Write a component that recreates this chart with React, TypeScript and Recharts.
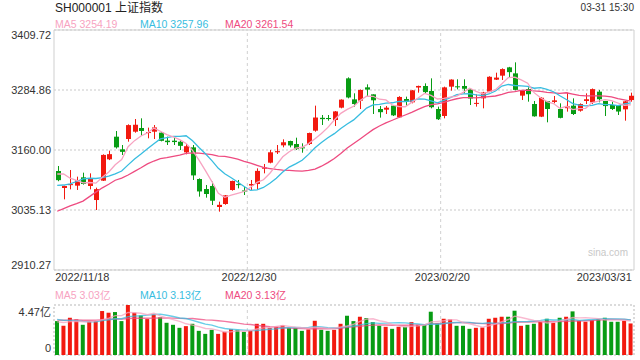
import React from "react";
import {
  Bar,
  CartesianGrid,
  Cell,
  ComposedChart,
  Line,
  ReferenceArea,
  ReferenceLine,
  XAxis,
  YAxis,
} from "recharts";

const dates = [
  "2022/11/18", "2022/11/21", "2022/11/22", "2022/11/23", "2022/11/24", "2022/11/25", "2022/11/28", "2022/11/29", "2022/11/30", "2022/12/01",
  "2022/12/02", "2022/12/05", "2022/12/06", "2022/12/07", "2022/12/08", "2022/12/09", "2022/12/12", "2022/12/13", "2022/12/14", "2022/12/15",
  "2022/12/16", "2022/12/19", "2022/12/20", "2022/12/21", "2022/12/22", "2022/12/23", "2022/12/26", "2022/12/27", "2022/12/28", "2022/12/29",
  "2022/12/30", "2023/01/03", "2023/01/04", "2023/01/05", "2023/01/06", "2023/01/09", "2023/01/10", "2023/01/11", "2023/01/12", "2023/01/13",
  "2023/01/16", "2023/01/17", "2023/01/18", "2023/01/19", "2023/01/20", "2023/01/30", "2023/01/31", "2023/02/01", "2023/02/02", "2023/02/03",
  "2023/02/06", "2023/02/07", "2023/02/08", "2023/02/09", "2023/02/10", "2023/02/13", "2023/02/14", "2023/02/15", "2023/02/16", "2023/02/17",
  "2023/02/20", "2023/02/21", "2023/02/22", "2023/02/23", "2023/02/24", "2023/02/27", "2023/02/28", "2023/03/01", "2023/03/02", "2023/03/03",
  "2023/03/06", "2023/03/07", "2023/03/08", "2023/03/09", "2023/03/10", "2023/03/13", "2023/03/14", "2023/03/15", "2023/03/16", "2023/03/17",
  "2023/03/20", "2023/03/21", "2023/03/22", "2023/03/23", "2023/03/24", "2023/03/27", "2023/03/28", "2023/03/29", "2023/03/30", "2023/03/31",
];

const opens = [
  3116.3, 3080.9, 3087.2, 3085.8, 3103.1, 3085.1, 3055.9, 3096.2, 3140.6, 3187.7,
  3161.4, 3182.9, 3198.1, 3205.8, 3196.7, 3198.1, 3196.1, 3179.5, 3179.4, 3177.3,
  3155.1, 3165.5, 3099.6, 3078.8, 3085.1, 3041.4, 3047.6, 3076.7, 3089.0, 3075.8,
  3086.0, 3089.2, 3121.1, 3133.6, 3155.2, 3169.7, 3178.7, 3172.5, 3165.5, 3172.5,
  3200.2, 3227.0, 3226.6, 3222.4, 3248.1, 3309.1, 3265.4, 3262.7, 3290.4, 3275.8,
  3245.3, 3243.9, 3252.3, 3228.0, 3266.1, 3259.2, 3290.0, 3293.2, 3282.8, 3245.3,
  3230.8, 3291.8, 3292.5, 3293.2, 3286.2, 3256.0, 3267.5, 3281.4, 3306.4, 3314.7,
  3332.0, 3319.5, 3273.1, 3286.9, 3255.7, 3229.4, 3262.0, 3260.0, 3245.3, 3247.0,
  3252.3, 3241.8, 3262.0, 3259.2, 3281.4, 3262.0, 3253.6, 3253.6, 3244.6, 3264.0,
];

const highs = [
  3126.7, 3086.0, 3118.4, 3104.5, 3112.8, 3111.4, 3081.6, 3151.0, 3158.6, 3199.5,
  3170.4, 3213.4, 3224.5, 3225.9, 3206.5, 3212.0, 3197.0, 3187.7, 3189.0, 3180.8,
  3172.5, 3170.4, 3101.0, 3087.2, 3094.1, 3052.5, 3066.3, 3096.2, 3097.6, 3083.7,
  3097.6, 3121.8, 3130.9, 3160.0, 3170.4, 3182.2, 3179.4, 3185.6, 3173.9, 3196.1,
  3252.3, 3232.8, 3232.8, 3241.1, 3265.4, 3311.2, 3277.9, 3286.0, 3296.6, 3275.8,
  3251.6, 3251.6, 3253.6, 3272.0, 3271.0, 3284.9, 3293.9, 3298.7, 3309.1, 3250.2,
  3291.8, 3307.1, 3307.1, 3307.1, 3286.2, 3275.8, 3281.0, 3313.5, 3320.9, 3329.9,
  3333.0, 3342.4, 3283.5, 3290.4, 3262.0, 3270.0, 3262.0, 3272.4, 3257.1, 3279.3,
  3267.5, 3257.0, 3277.9, 3288.0, 3284.9, 3262.0, 3260.6, 3253.6, 3262.0, 3279.3,
];

const lows = [
  3095.0, 3057.3, 3078.1, 3076.8, 3088.0, 3078.1, 3035.1, 3095.5, 3139.0, 3163.0,
  3149.6, 3177.3, 3196.0, 3189.8, 3184.3, 3182.9, 3178.0, 3170.4, 3170.4, 3160.0,
  3151.0, 3097.6, 3062.9, 3060.8, 3045.5, 3031.7, 3046.0, 3075.4, 3080.2, 3066.3,
  3076.8, 3078.1, 3111.4, 3132.2, 3151.7, 3165.5, 3165.5, 3160.0, 3154.4, 3170.4,
  3198.1, 3212.0, 3221.0, 3209.9, 3246.7, 3267.5, 3250.2, 3245.3, 3272.4, 3234.9,
  3227.3, 3234.9, 3230.7, 3227.0, 3251.6, 3257.1, 3279.3, 3277.9, 3246.7, 3222.4,
  3225.9, 3283.5, 3286.2, 3277.9, 3253.6, 3250.2, 3246.7, 3280.0, 3305.7, 3305.7,
  3311.2, 3284.2, 3264.0, 3260.6, 3229.4, 3228.5, 3217.6, 3257.1, 3225.9, 3239.8,
  3232.8, 3239.8, 3255.7, 3255.7, 3259.2, 3230.7, 3243.2, 3232.8, 3221.0, 3260.6,
];

const closes = [
  3097.24, 3085.04, 3088.94, 3096.91, 3089.31, 3101.69, 3078.55, 3149.75, 3151.34, 3165.47,
  3156.14, 3211.81, 3212.53, 3199.62, 3197.35, 3206.95, 3179.04, 3176.33, 3176.53, 3168.65,
  3167.86, 3107.12, 3073.77, 3068.41, 3054.43, 3045.87, 3065.56, 3095.57, 3087.4, 3073.7,
  3089.26, 3116.51, 3123.52, 3155.22, 3157.64, 3176.08, 3169.51, 3161.84, 3163.45, 3195.31,
  3227.59, 3224.24, 3224.41, 3240.28, 3264.81, 3269.32, 3255.67, 3284.92, 3285.67, 3263.41,
  3238.7, 3248.09, 3232.11, 3270.38, 3260.67, 3284.16, 3293.28, 3280.49, 3249.03, 3224.02,
  3290.34, 3306.52, 3291.15, 3287.48, 3267.16, 3258.03, 3279.61, 3312.35, 3310.65, 3328.39,
  3322.03, 3285.1, 3283.25, 3276.09, 3230.08, 3268.7, 3245.31, 3263.31, 3226.89, 3250.55,
  3234.91, 3255.65, 3265.65, 3286.65, 3265.65, 3251.4, 3245.38, 3240.06, 3261.25, 3272.86,
];

// closes of the 19 sessions before the window, for the moving averages
const priorCloses = [
  2977.56, 2976.28, 2999.5, 2982.9, 2915.93, 2893.48, 2969.2, 3003.37, 2997.81, 3070.8,
  3077.82, 3064.49, 3048.17, 3036.13, 3087.29, 3083.4, 3134.08, 3119.98, 3115.43,
];

// volume in 亿
const volumes = [
  3.03, 2.61, 3.33, 3.18, 2.7, 3.0, 3.03, 3.93, 3.78, 3.84,
  3.03, 4.47, 3.78, 3.54, 3.21, 3.63, 3.36, 2.88, 2.7, 2.43,
  2.58, 2.79, 2.16, 1.89, 2.25, 1.89, 2.07, 2.31, 2.25, 2.07,
  2.22, 2.79, 2.79, 2.43, 2.52, 2.64, 2.43, 2.43, 2.16, 2.28,
  3.06, 2.25, 2.16, 2.25, 2.79, 3.51, 3.03, 3.42, 3.3, 2.94,
  2.61, 2.52, 2.34, 2.52, 2.52, 2.94, 2.7, 2.7, 3.87, 2.82,
  3.24, 3.18, 2.61, 2.61, 2.34, 2.43, 2.46, 3.24, 3.33, 3.42,
  3.42, 3.96, 2.61, 2.7, 2.79, 3.0, 3.24, 2.88, 3.33, 3.42,
  3.9, 3.06, 2.97, 3.12, 3.21, 3.33, 2.97, 2.97, 3.06, 2.82,
];

const priorVolumes = [
  3.0, 2.9, 3.1, 3.2, 2.95, 3.05, 3.15, 2.98, 3.12, 3.15,
  3.45, 3.3, 3.5, 3.35, 3.37, 2.9, 2.95, 3.0, 2.95,
];

const priceTicks = [2910.27, 3035.13, 3160.0, 3284.86, 3409.72];
const volumeTicks = [0, 4.47];
const dateTicks = ["2022/11/18", "2022/12/30", "2023/02/20", "2023/03/31"];
const dividerDates = ["2022/12/30", "2023/02/20"];

const priceLegend = ["MA5 3254.19", "MA10 3257.96", "MA20 3261.54"];
const volumeLegend = ["MA5 3.03亿", "MA10 3.13亿", "MA20 3.13亿"];

const RED = "#f2190f";
const GREEN = "#089c14";
const MA5 = "#f7a3c1";
const MA10 = "#38bde0";
const MA20 = "#ee4b80";
const FONT = "'Liberation Sans', Arial, 'Noto Sans CJK SC', sans-serif";

function movingAvg(values: number[], prior: number[], n: number) {
  const all = [...prior, ...values];
  return values.map((_, i) => {
    const end = prior.length + i + 1;
    const part = all.slice(Math.max(0, end - n), end);
    return part.reduce((a, b) => a + b, 0) / part.length;
  });
}

const ma5 = movingAvg(closes, priorCloses, 5);
const ma10 = movingAvg(closes, priorCloses, 10);
const ma20 = movingAvg(closes, priorCloses, 20);
const vma5 = movingAvg(volumes, priorVolumes, 5);
const vma10 = movingAvg(volumes, priorVolumes, 10);
const vma20 = movingAvg(volumes, priorVolumes, 20);

const rows = dates.map((date, i) => ({
  date,
  open: opens[i],
  high: highs[i],
  low: lows[i],
  close: closes[i],
  range: [lows[i], highs[i]],
  ma5: ma5[i],
  ma10: ma10[i],
  ma20: ma20[i],
  vol: volumes[i],
  vma5: vma5[i],
  vma10: vma10[i],
  vma20: vma20[i],
}));

function Candle(props: any) {
  const { x, y, width, height, payload } = props;
  if (!payload) return null;
  const top = Math.min(y, y + height);
  const h = Math.abs(height);
  const { open, close, high, low } = payload;
  const toY = (v: number) => top + ((high - v) / (high - low)) * h;
  const color = close >= open ? RED : GREEN;
  const cx = Math.round(x + width / 2) + 0.5;
  const bodyTop = toY(Math.max(open, close));
  const bodyBottom = toY(Math.min(open, close));
  return (
    <g>
      <line x1={cx} x2={cx} y1={top} y2={top + h} stroke={color} strokeWidth={1} />
      <rect x={cx - 2.5} y={bodyTop} width={5} height={Math.max(1, bodyBottom - bodyTop)} fill={color} />
    </g>
  );
}

function PriceTick(props: any) {
  const { y, payload } = props;
  const v = payload.value;
  let dy = 4;
  if (v === priceTicks[priceTicks.length - 1]) dy = 8.5;
  if (v === priceTicks[0]) dy = -1.5;
  return (
    <text x={51} y={y} dy={dy} textAnchor="end" fontSize={11} fill="#333">
      {v.toFixed(2)}
    </text>
  );
}

function VolumeTick(props: any) {
  const { y, payload } = props;
  const v = payload.value;
  return (
    <text x={51} y={y} dy={v > 0 ? 11 : -3} textAnchor="end" fontSize={11} fill="#333">
      {v > 0 ? `${v.toFixed(2)}亿` : "0"}
    </text>
  );
}

function DateTick(props: any) {
  const { x, payload } = props;
  const v = payload.value;
  let anchor = "middle";
  let dx = -1.5;
  if (v === dateTicks[0]) {
    anchor = "start";
    dx = -2;
  } else if (v === dateTicks[dateTicks.length - 1]) {
    anchor = "end";
    dx = 1;
  }
  return (
    <text x={x + dx} y={281} textAnchor={anchor} fontSize={11} fill="#333">
      {v}
    </text>
  );
}

const label = (left: number, top: number, size: number, color: string): React.CSSProperties => ({
  position: "absolute",
  left,
  top,
  fontSize: size,
  lineHeight: "14px",
  color,
  whiteSpace: "nowrap",
});

export default function App() {
  const legendColors = [MA5, MA10, MA20];
  const legendX = [55, 140, 225];
  return (
    <div
      style={{
        position: "absolute",
        left: 0,
        top: 0,
        width: 640,
        height: 360,
        background: "#fff",
        fontFamily: FONT,
        overflow: "hidden",
      }}
    >
      <div style={label(55, 1, 12, "#222")}>SH000001 上证指数</div>
      <div style={{ ...label(0, 1, 10, "#333"), left: "auto", right: 6 }}>03-31 15:30</div>
      {priceLegend.map((t, i) => (
        <div key={t} style={label(legendX[i], 17, 10.5, legendColors[i])}>
          {t}
        </div>
      ))}
      {volumeLegend.map((t, i) => (
        <div key={t} style={label(legendX[i], 288, 10.5, legendColors[i])}>
          {t}
        </div>
      ))}
      <div style={label(588, 246, 10, "#c8c8c8")}>sina.com</div>

      <div style={{ position: "absolute", left: 0, top: 0 }}>
        <ComposedChart width={640} height={290} data={rows} margin={{ top: 30, right: 6, bottom: 0, left: 4 }}>
          <CartesianGrid vertical={false} stroke="#dcdcdc" strokeWidth={1.5} strokeDasharray="2 2" />
          <ReferenceArea y1={priceTicks[0]} y2={priceTicks[priceTicks.length - 1]} fill="none" stroke="#cfcfcf" strokeWidth={1} />
          {dividerDates.map((d) => (
            <ReferenceLine key={d} x={d} position="start" stroke="#d0d0d0" strokeDasharray="3 3" />
          ))}
          <XAxis
            dataKey="date"
            ticks={dateTicks}
            interval={0}
            axisLine={false}
            tickLine={false}
            tickSize={0}
            height={20}
            tick={<DateTick />}
          />
          <YAxis
            domain={[priceTicks[0], priceTicks[priceTicks.length - 1]]}
            ticks={priceTicks}
            interval={0}
            allowDataOverflow
            axisLine={false}
            tickLine={false}
            width={50}
            tick={<PriceTick />}
          />
          <Bar dataKey="range" barSize={5} isAnimationActive={false} shape={(p: any) => <Candle {...p} />} />
          <Line dataKey="ma20" stroke={MA20} strokeWidth={1.3} dot={false} isAnimationActive={false} />
          <Line dataKey="ma10" stroke={MA10} strokeWidth={1.3} dot={false} isAnimationActive={false} />
          <Line dataKey="ma5" stroke={MA5} strokeWidth={1.3} dot={false} isAnimationActive={false} />
        </ComposedChart>
      </div>

      <div style={{ position: "absolute", left: 0, top: 300 }}>
        <ComposedChart width={640} height={60} data={rows} margin={{ top: 5, right: 6, bottom: 5, left: 4 }}>
          <ReferenceArea y1={0} y2={4.47} fill="none" stroke="#d0d0d0" strokeWidth={1.5} strokeDasharray="2 2" />
          {dividerDates.map((d) => (
            <ReferenceLine key={d} x={d} position="start" stroke="#d0d0d0" strokeDasharray="3 3" />
          ))}
          <XAxis dataKey="date" hide />
          <YAxis
            domain={[0, 4.47]}
            ticks={volumeTicks}
            interval={0}
            allowDataOverflow
            axisLine={false}
            tickLine={false}
            width={50}
            tick={<VolumeTick />}
          />
          <Bar dataKey="vol" barSize={4} isAnimationActive={false}>
            {rows.map((r) => (
              <Cell key={r.date} fill={r.close >= r.open ? RED : GREEN} />
            ))}
          </Bar>
          <Line dataKey="vma20" stroke={MA20} strokeOpacity={0.75} strokeWidth={1.4} dot={false} isAnimationActive={false} />
          <Line dataKey="vma10" stroke={MA10} strokeOpacity={0.75} strokeWidth={1.4} dot={false} isAnimationActive={false} />
          <Line dataKey="vma5" stroke={MA5} strokeOpacity={0.75} strokeWidth={1.4} dot={false} isAnimationActive={false} />
        </ComposedChart>
      </div>
    </div>
  );
}
